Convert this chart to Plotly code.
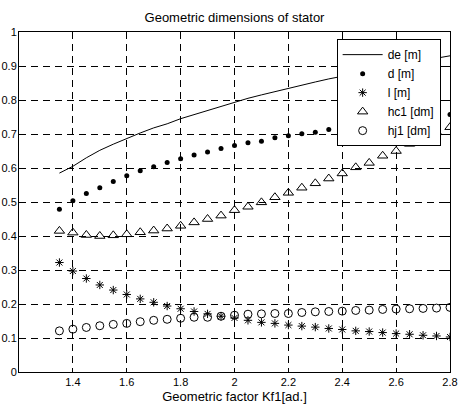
import plotly.graph_objects as go

kf1 = [1.35, 1.40, 1.45, 1.50, 1.55, 1.60, 1.65, 1.70, 1.75, 1.80,
       1.85, 1.90, 1.95, 2.00, 2.05, 2.10, 2.15, 2.20, 2.25, 2.30,
       2.35, 2.40, 2.45, 2.50, 2.55, 2.60, 2.65, 2.70, 2.75, 2.80]

de = [0.585, 0.605, 0.630, 0.652, 0.670, 0.687, 0.703, 0.718, 0.730, 0.745,
      0.757, 0.771, 0.782, 0.795, 0.805, 0.815, 0.825, 0.835, 0.845, 0.853,
      0.862, 0.870, 0.878, 0.886, 0.894, 0.902, 0.909, 0.916, 0.923, 0.930]

d = [0.479, 0.504, 0.525, 0.542, 0.560, 0.577, 0.592, 0.604, 0.616, 0.627,
     0.638, 0.647, 0.657, 0.666, 0.674, 0.679, 0.689, 0.695, 0.701, 0.705,
     0.713, 0.718, 0.724, 0.730, 0.735, 0.740, 0.745, 0.749, 0.753, 0.757]

l = [0.322, 0.297, 0.275, 0.256, 0.241, 0.228, 0.215, 0.205, 0.194, 0.186,
     0.178, 0.171, 0.164, 0.159, 0.152, 0.146, 0.143, 0.138, 0.135, 0.132,
     0.128, 0.125, 0.121, 0.119, 0.116, 0.113, 0.111, 0.108, 0.106, 0.103]

hc1 = [0.415, 0.410, 0.403, 0.400, 0.402, 0.405, 0.411, 0.416, 0.422, 0.430,
       0.440, 0.450, 0.460, 0.476, 0.486, 0.499, 0.514, 0.527, 0.542, 0.555,
       0.569, 0.584, 0.602, 0.615, 0.636, 0.650, 0.671, 0.690, 0.705, 0.720]

hj1 = [0.121, 0.126, 0.131, 0.136, 0.140, 0.143, 0.148, 0.152, 0.155, 0.158,
       0.161, 0.161, 0.164, 0.167, 0.170, 0.171, 0.172, 0.172, 0.175, 0.177,
       0.178, 0.179, 0.181, 0.182, 0.184, 0.185, 0.186, 0.187, 0.188, 0.190]

x_ticks = [1.4, 1.6, 1.8, 2.0, 2.2, 2.4, 2.6, 2.8]
x_labels = ["1.4", "1.6", "1.8", "2", "2.2", "2.4", "2.6", "2.8"]
y_ticks = [0, 0.1, 0.2, 0.3, 0.4, 0.5, 0.6, 0.7, 0.8, 0.9, 1]
y_labels = ["0", "0.1", "0.2", "0.3", "0.4", "0.5", "0.6", "0.7", "0.8", "0.9", "1"]

FONT = "Liberation Sans, Arial, sans-serif"

fig = go.Figure()
fig.add_trace(go.Scatter(x=kf1, y=de, mode="lines", name="de [m]",
                         line=dict(color="black", width=1)))
fig.add_trace(go.Scatter(x=kf1, y=d, mode="markers", name="d [m]",
                         marker=dict(symbol="circle", size=5, color="black")))
fig.add_trace(go.Scatter(x=kf1, y=l, mode="markers", name="l [m]",
                         marker=dict(symbol="asterisk-open", size=7, color="black",
                                     line=dict(color="black", width=1))))
fig.add_trace(go.Scatter(x=kf1, y=hc1, mode="markers", name="hc1 [dm]",
                         marker=dict(symbol="triangle-up-open", size=9, color="black",
                                     line=dict(color="black", width=1))))
fig.add_trace(go.Scatter(x=kf1, y=hj1, mode="markers", name="hj1 [dm]",
                         marker=dict(symbol="circle-open", size=8, color="black",
                                     line=dict(color="black", width=1))))

axis_common = dict(
    showline=True, linecolor="black", linewidth=1, mirror="ticks",
    ticks="inside", ticklen=4, tickcolor="black", tickwidth=1,
    showgrid=True, gridcolor="black", gridwidth=1, griddash="7px,5px",
    zeroline=False, automargin=False,
    tickfont=dict(family=FONT, size=11, color="black"),
)

fig.update_layout(
    width=460, height=408,
    margin=dict(l=19, r=10, t=32, b=36),
    paper_bgcolor="white", plot_bgcolor="white",
    font=dict(family=FONT, size=11, color="black"),
    title=dict(text="Geometric dimensions of stator", x=0.5, xref="paper",
               xanchor="center", y=1 - 17 / 408, yanchor="middle",
               font=dict(size=13, color="black")),
    xaxis=dict(range=[1.2, 2.8], tickvals=x_ticks, ticktext=x_labels,
               title=dict(text="Geometric factor Kf1[ad.]", standoff=4,
                          font=dict(size=13)), **axis_common),
    yaxis=dict(range=[0, 1], tickvals=y_ticks, ticktext=y_labels,
               ticklabelstandoff=-1, **axis_common),
    legend=dict(x=0.737, y=0.979, xanchor="left", yanchor="top",
                bgcolor="white", bordercolor="black", borderwidth=1,
                font=dict(size=12), tracegroupgap=0, itemwidth=40),
    showlegend=True,
)

fig.write_html("out.html", config={"displayModeBar": False},
               post_script="document.body.style.margin='0';")
